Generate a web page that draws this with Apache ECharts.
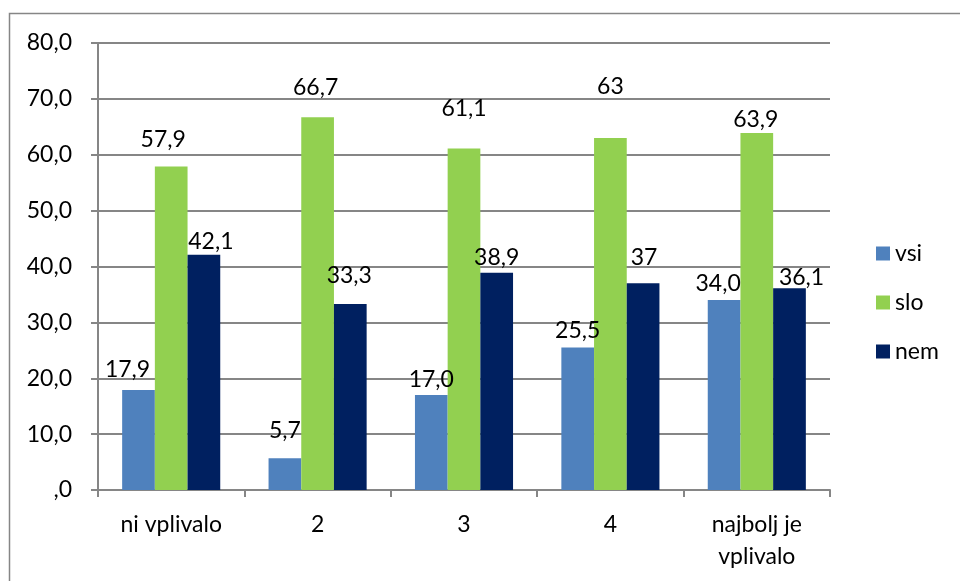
<!DOCTYPE html>
<html>
<head>
<meta charset="utf-8">
<script src="https://cdn.jsdelivr.net/npm/echarts@6/dist/echarts.min.js"></script>
<style>
  html, body { margin: 0; padding: 0; background: #fff; }
  #chart { width: 960px; height: 581px; }
</style>
</head>
<body>
<div id="chart"></div>
<script>
  var categories = ['ni vplivalo', '2', '3', '4', 'najbolj je\nvplivalo'];
  var vsi = [17.9, 5.7, 17.0, 25.5, 34.0];
  var slo = [57.9, 66.7, 61.1, 63, 63.9];
  var nem = [42.1, 33.3, 38.9, 37, 36.1];
  // labels as printed in the original (some without decimals)
  var vsiLabels = ['17,9', '5,7', '17,0', '25,5', '34,0'];
  var sloLabels = ['57,9', '66,7', '61,1', '63', '63,9'];
  var nemLabels = ['42,1', '33,3', '38,9', '37', '36,1'];
  // hand-placed label nudges in the original, [dx, dy]
  var vsiNudge = [[-11, -8], [0, -16], [0, -3], [0, -5], [-6, -4]];
  var sloNudge = [[-8, -15], [-2, -18], [0, -28], [0, -39], [-1, -1]];
  var nemNudge = [[7, -1], [-1, -16], [0, -3], [1, -14], [12, 1]];

  var font = 'Lato';
  var chart = echarts.init(document.getElementById('chart'));

  function mkSeries(name, data, labels, nudge, color) {
    return {
      name: name,
      type: 'bar',
      barGap: '0%',
      barCategoryGap: '33%',
      itemStyle: { color: color },
      label: {
        show: true,
        position: 'top',
        distance: 0,
        color: '#000',
        fontFamily: font,
        fontSize: 23,
        lineHeight: 24
      },
      data: data.map(function (v, i) {
        return { value: v, label: { formatter: labels[i], offset: nudge[i] } };
      })
    };
  }

  chart.setOption({
    animation: false,
    graphic: [{
      type: 'rect',
      shape: { x: 9.5, y: 13.5, width: 960, height: 600 },
      style: { fill: 'none', stroke: '#868686', lineWidth: 1.5 },
      silent: true
    }],
    grid: { left: 98, right: 130, top: 43, bottom: 91, containLabel: false },
    legend: {
      orient: 'vertical',
      left: 871,
      top: 237,
      itemWidth: 14,
      itemHeight: 14,
      itemGap: 26,
      icon: 'rect',
      textStyle: { fontFamily: font, fontSize: 23, lineHeight: 22, color: '#000' },
      data: ['vsi', 'slo', 'nem']
    },
    xAxis: {
      type: 'category',
      data: categories,
      axisLine: { lineStyle: { color: '#868686', width: 2 } },
      axisTick: { show: true, length: 7, lineStyle: { color: '#868686', width: 2 } },
      axisLabel: { color: '#000', fontFamily: font, fontSize: 23, margin: 19, lineHeight: 32 }
    },
    yAxis: {
      type: 'value',
      min: 0,
      max: 80,
      interval: 10,
      axisLine: { show: true, lineStyle: { color: '#868686', width: 2 } },
      axisTick: { show: true, length: 7, lineStyle: { color: '#868686', width: 2 } },
      splitLine: { lineStyle: { color: '#868686', width: 2 } },
      axisLabel: {
        color: '#000', fontFamily: font, fontSize: 23, margin: 26,
        formatter: function (v) { return v === 0 ? ',0' : v.toFixed(1).replace('.', ','); }
      }
    },
    series: [
      mkSeries('vsi', vsi, vsiLabels, vsiNudge, '#4F81BD'),
      mkSeries('slo', slo, sloLabels, sloNudge, '#92D050'),
      mkSeries('nem', nem, nemLabels, nemNudge, '#002060')
    ]
  });
</script>
</body>
</html>
